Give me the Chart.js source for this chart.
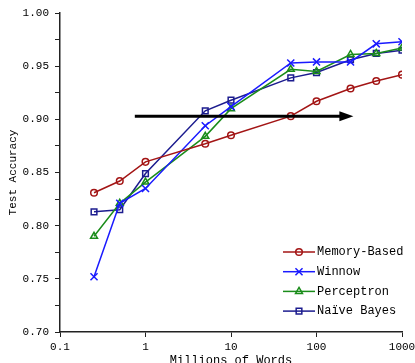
<!DOCTYPE html>
<html>
<head>
<meta charset="utf-8">
<script src="https://cdn.jsdelivr.net/npm/chart.js@4"></script>
<style>
  html, body { margin: 0; padding: 0; background: #fff; }
  #wrap { width: 415px; height: 363px; }
</style>
</head>
<body>
<div id="wrap"><canvas id="c"></canvas></div>
<script>
// corpus size in millions of words
const words = [0.25, 0.5, 1, 5, 10, 50, 100, 250, 500, 1000];

const memoryBased = [0.831, 0.842, 0.860, 0.877, 0.885, 0.903, 0.917, 0.929, 0.936, 0.942];
const winnow      = [0.752, 0.821, 0.835, 0.894, 0.912, 0.953, 0.954, 0.954, 0.971, 0.973];
const perceptron  = [0.790, 0.821, 0.841, 0.884, 0.910, 0.947, 0.945, 0.961, 0.962, 0.967];
const naiveBayes  = [0.813, 0.815, 0.849, 0.908, 0.918, 0.939, 0.944, 0.956, 0.962, 0.965];

const xTicks = [0.1, 1, 10, 100, 1000];
const yMajor = [0.70, 0.75, 0.80, 0.85, 0.90, 0.95, 1.00];

// the arrow across the plot
const arrowFrom = 0.75, arrowTo = 270, arrowY = 0.903;

const FONT = '"Liberation Mono", "DejaVu Sans Mono", monospace';

const series = [
  { label: 'Memory-Based', data: memoryBased, color: '#a31515', style: 'circle' },
  { label: 'Winnow',       data: winnow,      color: '#1a1aff', style: 'crossRot' },
  { label: 'Perceptron',   data: perceptron,  color: '#1a8c1a', style: 'triangle' },
  { label: 'Naïve Bayes',  data: naiveBayes,  color: '#1c1c8f', style: 'rect' },
];

const radiusFor = st => st === 'crossRot' ? 5 : st === 'circle' ? 3.3 : 4;

const datasets = series.map(s => ({
  label: s.label,
  data: s.data.map((v, i) => ({ x: words[i], y: v })),
  borderColor: s.color,
  backgroundColor: 'rgba(255,255,255,0)',
  borderWidth: 1.5,
  pointStyle: s.style,
  pointRadius: radiusFor(s.style),
  pointBorderColor: s.color,
  pointBorderWidth: 1.5,
  pointBackgroundColor: 'rgba(255,255,255,0)',
  tension: 0,
}));

const arrowPlugin = {
  id: 'arrow',
  afterDatasetsDraw(chart) {
    const { ctx, scales } = chart;
    const x0 = scales.x.getPixelForValue(arrowFrom);
    const x1 = scales.x.getPixelForValue(arrowTo);
    const y = scales.y.getPixelForValue(arrowY);
    ctx.save();
    ctx.strokeStyle = '#000';
    ctx.fillStyle = '#000';
    ctx.lineWidth = 3;
    ctx.beginPath();
    ctx.moveTo(x0, y);
    ctx.lineTo(x1 - 12, y);
    ctx.stroke();
    ctx.beginPath();
    ctx.moveTo(x1, y);
    ctx.lineTo(x1 - 14, y - 5);
    ctx.lineTo(x1 - 14, y + 5);
    ctx.closePath();
    ctx.fill();
    ctx.restore();
  }
};

const legendPlugin = {
  id: 'boxLegend',
  afterDraw(chart) {
    const { ctx, chartArea } = chart;
    const lx0 = chartArea.right - 119;
    const lx1 = chartArea.right - 87;
    let y = chartArea.bottom - 80;
    ctx.save();
    ctx.font = '12px ' + FONT;
    ctx.textBaseline = 'middle';
    series.forEach(s => {
      ctx.strokeStyle = s.color;
      ctx.lineWidth = 1.5;
      ctx.beginPath();
      ctx.moveTo(lx0, y);
      ctx.lineTo(lx1, y);
      ctx.stroke();
      ctx.fillStyle = 'rgba(255,255,255,0)';
      Chart.helpers.drawPoint(ctx, {
        pointStyle: s.style, radius: radiusFor(s.style),
        rotation: 0, borderWidth: 1.5
      }, (lx0 + lx1) / 2, y);
      ctx.fillStyle = '#000';
      ctx.fillText(s.label, lx1 + 2, y);
      y += 19.7;
    });
    ctx.restore();
  }
};

new Chart(document.getElementById('c'), {
  type: 'line',
  data: { datasets },
  plugins: [arrowPlugin, legendPlugin],
  options: {
    responsive: true,
    maintainAspectRatio: false,
    animation: false,
    layout: { padding: { left: 0, right: 13, top: 13, bottom: 0 } },
    plugins: { legend: { display: false }, tooltip: { enabled: false } },
    scales: {
      x: {
        type: 'logarithmic',
        min: 0.1,
        max: 1000,
        afterBuildTicks(scale) { scale.ticks = xTicks.map(v => ({ value: v })); },
        afterFit(scale) { scale.height = 31; scale.paddingLeft = 0; scale.paddingRight = 0; },
        border: { display: true, color: '#222', width: 1.5 },
        grid: { display: true, drawOnChartArea: false, drawTicks: true, tickLength: 5, color: '#222' },
        ticks: {
          autoSkip: false, maxRotation: 0, padding: 3,
          color: '#000', font: { family: FONT, size: 11 },
          callback: v => String(v)
        },
        title: {
          display: true, text: 'Millions of Words', color: '#000',
          font: { family: FONT, size: 12 }, padding: { top: 0, bottom: -5 }
        }
      },
      y: {
        type: 'linear',
        min: 0.70,
        max: 1.00,
        afterFit(scale) { scale.width = 60; },
        border: { display: true, color: '#222', width: 1.5 },
        grid: { display: true, drawOnChartArea: false, drawTicks: true, tickLength: 5, color: '#222' },
        ticks: {
          stepSize: 0.025, padding: 6,
          color: '#000', font: { family: FONT, size: 11 },
          callback: v => yMajor.some(m => Math.abs(m - v) < 1e-6) ? v.toFixed(2) : ''
        },
        title: {
          display: true, text: 'Test Accuracy', color: '#000',
          font: { family: FONT, size: 11 }, padding: { top: 6, bottom: 0 }
        }
      }
    }
  }
});
</script>
</body>
</html>
